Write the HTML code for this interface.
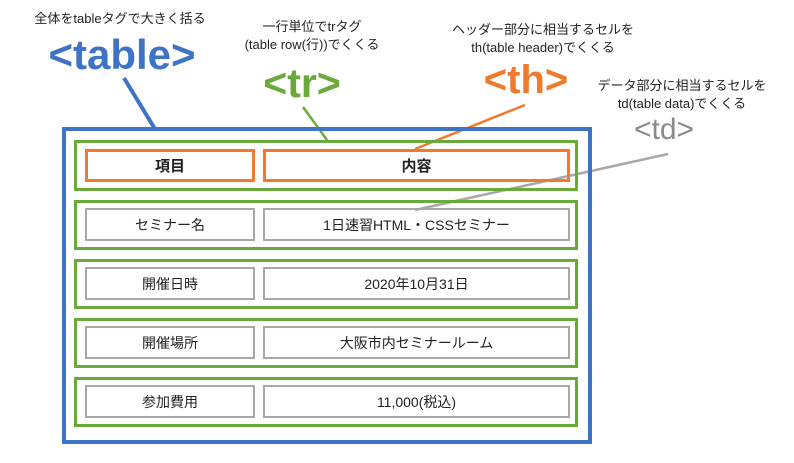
<!DOCTYPE html>
<html><head><meta charset="utf-8"><style>
body{margin:0;width:794px;height:463px;background:#fff;overflow:hidden;position:relative;font-family:"Liberation Sans","Noto Sans CJK JP",sans-serif;color:#222}
.a{position:absolute;box-sizing:border-box}
.t{position:absolute;white-space:nowrap;text-align:center;transform:translateX(-50%)}
.g{border:3px solid #6aaa3a}
.c{border:2px solid #a8a8a8;display:flex;align-items:center;justify-content:center;font-size:14px}
.o{border:3px solid #ef7a2c;font-weight:bold;font-size:15px}
</style></head><body>
<svg class="a" style="left:0;top:0" width="794" height="463">
<line x1="124" y1="78" x2="155" y2="129" stroke="#3e73c8" stroke-width="4"/>
<line x1="303" y1="107" x2="327" y2="140" stroke="#6aaa3a" stroke-width="2.5"/>
<line x1="525" y1="105" x2="415" y2="149" stroke="#ef7a2c" stroke-width="2.5"/>
<line x1="668" y1="154" x2="415" y2="210" stroke="#a8a8a8" stroke-width="2.5"/>
</svg>
<div class="a" style="left:62px;top:127px;width:530px;height:317px;border:4px solid #3e73c8"></div>
<div class="a g" style="left:74px;top:140px;width:504px;height:51px"></div>
<div class="a g" style="left:74px;top:200px;width:504px;height:50px"></div>
<div class="a g" style="left:74px;top:259px;width:504px;height:50px"></div>
<div class="a g" style="left:74px;top:318px;width:504px;height:50px"></div>
<div class="a g" style="left:74px;top:377px;width:504px;height:50px"></div>
<div class="a c o" style="left:85px;top:149px;width:170px;height:33px">項目</div>
<div class="a c o" style="left:263px;top:149px;width:307px;height:33px">内容</div>
<div class="a c" style="left:85px;top:208px;width:170px;height:33px">セミナー名</div>
<div class="a c" style="left:263px;top:208px;width:307px;height:33px">1日速習HTML・CSSセミナー</div>
<div class="a c" style="left:85px;top:267px;width:170px;height:33px">開催日時</div>
<div class="a c" style="left:263px;top:267px;width:307px;height:33px">2020年10月31日</div>
<div class="a c" style="left:85px;top:326px;width:170px;height:33px">開催場所</div>
<div class="a c" style="left:263px;top:326px;width:307px;height:33px">大阪市内セミナールーム</div>
<div class="a c" style="left:85px;top:385px;width:170px;height:33px">参加費用</div>
<div class="a c" style="left:263px;top:385px;width:307px;height:33px">11,000(税込)</div>
<div class="t" style="left:120px;top:8px;font-size:13px">全体をtableタグで大きく括る</div>
<div class="t" style="left:122px;top:31px;font-size:42px;font-weight:bold;color:#3e73c8">&lt;table&gt;</div>
<div class="t" style="left:312px;top:18px;font-size:13px;line-height:18px">一行単位でtrタグ<br>(table row(行))でくくる</div>
<div class="t" style="left:302px;top:60px;font-size:41px;font-weight:bold;color:#6aaa3a">&lt;tr&gt;</div>
<div class="t" style="left:543px;top:21px;font-size:13px;line-height:18px">ヘッダー部分に相当するセルを<br>th(table header)でくくる</div>
<div class="t" style="left:526px;top:58px;font-size:40px;font-weight:bold;color:#ef7a2c">&lt;th&gt;</div>
<div class="t" style="left:682px;top:77px;font-size:13px;line-height:18px">データ部分に相当するセルを<br>td(table data)でくくる</div>
<div class="t" style="left:664px;top:113px;font-size:30px;color:#8a8a8a">&lt;td&gt;</div>
</body></html>
